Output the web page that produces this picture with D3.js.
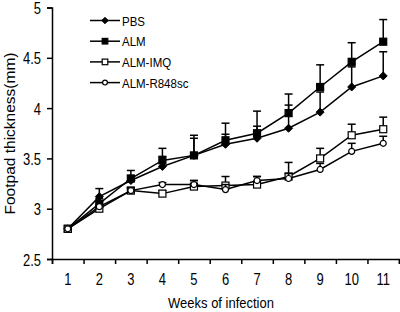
<!DOCTYPE html>
<html>
<head>
<meta charset="utf-8">
<script src="https://cdn.jsdelivr.net/npm/d3@7"></script>
<style>
body { margin: 0; background: #fff; }
text { font-family: "Liberation Sans", Arial, sans-serif; fill: #000; }
</style>
</head>
<body>
<script>
const weeks = [1, 2, 3, 4, 5, 6, 7, 8, 9, 10, 11];
const pbs = [2.8, 3.12, 3.28, 3.42, 3.53, 3.64, 3.7, 3.8, 3.96, 4.21, 4.32];
const alm = [2.8, 3.05, 3.3, 3.48, 3.53, 3.68, 3.75, 3.95, 4.21, 4.46, 4.66];
const almImq = [2.8, 3.0, 3.18, 3.15, 3.22, 3.23, 3.24, 3.32, 3.5, 3.73, 3.79];
const almR848 = [2.8, 3.02, 3.18, 3.24, 3.24, 3.19, 3.28, 3.3, 3.39, 3.57, 3.65];
const pbsErr = [0, 0.08, 0.05, 0.1, 0.17, 0.1, 0.12, 0.23, 0.2, 0.2, 0.24];
const almErr = [0, 0.05, 0.08, 0.12, 0.2, 0.17, 0.22, 0.19, 0.22, 0.19, 0.22];
const imqErr = [0, 0.02, 0.03, 0.03, 0.06, 0.09, 0.08, 0.14, 0.1, 0.11, 0.12];
const r848Err = [0, 0.02, 0.03, 0.02, 0.04, 0.05, 0.04, 0.05, 0.06, 0.08, 0.07];
const yTicks = [2.5, 3, 3.5, 4, 4.5, 5];

const series = [
    {name: "PBS", values: pbs, err: pbsErr, shape: "diamond", fill: "#000"},
    {name: "ALM", values: alm, err: almErr, shape: "square", fill: "#000"},
    {name: "ALM-IMQ", values: almImq, err: imqErr, shape: "square", fill: "#fff"},
    {name: "ALM-R848sc", values: almR848, err: r848Err, shape: "circle", fill: "#fff"}
];

const width = 400, height = 312;
const svg = d3.select("body").append("svg")
    .attr("width", width).attr("height", height);

const x = d3.scaleLinear().domain([0.5, 11.5]).range([52, 399]);
const y = d3.scaleLinear().domain([2.5, 5]).range([259, 7.5]);

// text in the original looks a bit stretched vertically
function tallText(parent, tx, ty, str, size, anchor, sy) {
    parent.append("g").attr("transform", `translate(${tx},${ty}) scale(1,${sy})`)
        .append("text").attr("text-anchor", anchor).attr("font-size", size).text(str);
}

// axes
svg.append("g")
    .attr("transform", "translate(52,0)")
    .call(d3.axisLeft(y).tickValues(yTicks).tickSize(5).tickFormat(""));
svg.append("g")
    .attr("transform", "translate(0,259)")
    .call(d3.axisBottom(x).tickValues(d3.range(0.5, 12, 1)).tickSize(5).tickFormat(""));
svg.selectAll(".domain, .tick line").attr("stroke", "#000").attr("stroke-width", 1.5);

const labels = svg.append("g");
yTicks.forEach(t => tallText(labels, 41, y(t) + 6.5, d3.format("")(t), 13, "end", 1.2));
weeks.forEach(w => tallText(labels, x(w), 284.5, w, 13, "middle", 1.2));

tallText(svg, 221, 307.5, "Weeks of infection", 13, "middle", 1.15);
svg.append("text")
    .attr("transform", "translate(15,133.5) rotate(-90)")
    .attr("text-anchor", "middle").attr("font-size", 15.5)
    .text("Footpad thickness(mm)");

const line = d3.line().x((d, i) => x(weeks[i])).y(d => y(d));

function drawMarker(g, shape, fill, k) {
    if (shape === "diamond") {
        g.append("path").attr("d", `M0,${-4 * k}L${4 * k},0L0,${4 * k}L${-4 * k},0Z`).attr("fill", fill).attr("stroke", "#000");
    } else if (shape === "square") {
        g.append("rect").attr("x", -3.5 * k).attr("y", -3.5 * k).attr("width", 7 * k).attr("height", 7 * k)
            .attr("fill", fill).attr("stroke", "#000").attr("stroke-width", 1.2);
    } else {
        g.append("circle").attr("r", 3 * k).attr("fill", fill).attr("stroke", "#000").attr("stroke-width", 1.2);
    }
}

series.forEach(s => {
    const g = svg.append("g");
    // error bars (upper only)
    s.values.forEach((v, i) => {
        if (!s.err[i]) return;
        const cx = x(weeks[i]), top = y(v + s.err[i]);
        g.append("line").attr("x1", cx).attr("x2", cx).attr("y1", y(v)).attr("y2", top)
            .attr("stroke", "#000").attr("stroke-width", 1.5);
        g.append("line").attr("x1", cx - 4).attr("x2", cx + 4).attr("y1", top).attr("y2", top)
            .attr("stroke", "#000").attr("stroke-width", 1.5);
    });
    g.append("path").datum(s.values).attr("d", line)
        .attr("fill", "none").attr("stroke", "#000").attr("stroke-width", 1.5);
    s.values.forEach((v, i) => {
        drawMarker(g.append("g").attr("transform", `translate(${x(weeks[i])},${y(v)})`), s.shape, s.fill, 1);
    });
});

// legend
const legend = svg.append("g").attr("transform", "translate(90,20.5)");
series.forEach((s, i) => {
    const row = legend.append("g").attr("transform", `translate(0,${i * 20.7})`);
    row.append("line").attr("x1", 0).attr("x2", 30).attr("stroke", "#000").attr("stroke-width", 1.5);
    drawMarker(row.append("g").attr("transform", "translate(15,0)"), s.shape, s.fill, 0.8);
    tallText(row, 32, 5, s.name, 11.5, "start", 1.15);
});
</script>
</body>
</html>
